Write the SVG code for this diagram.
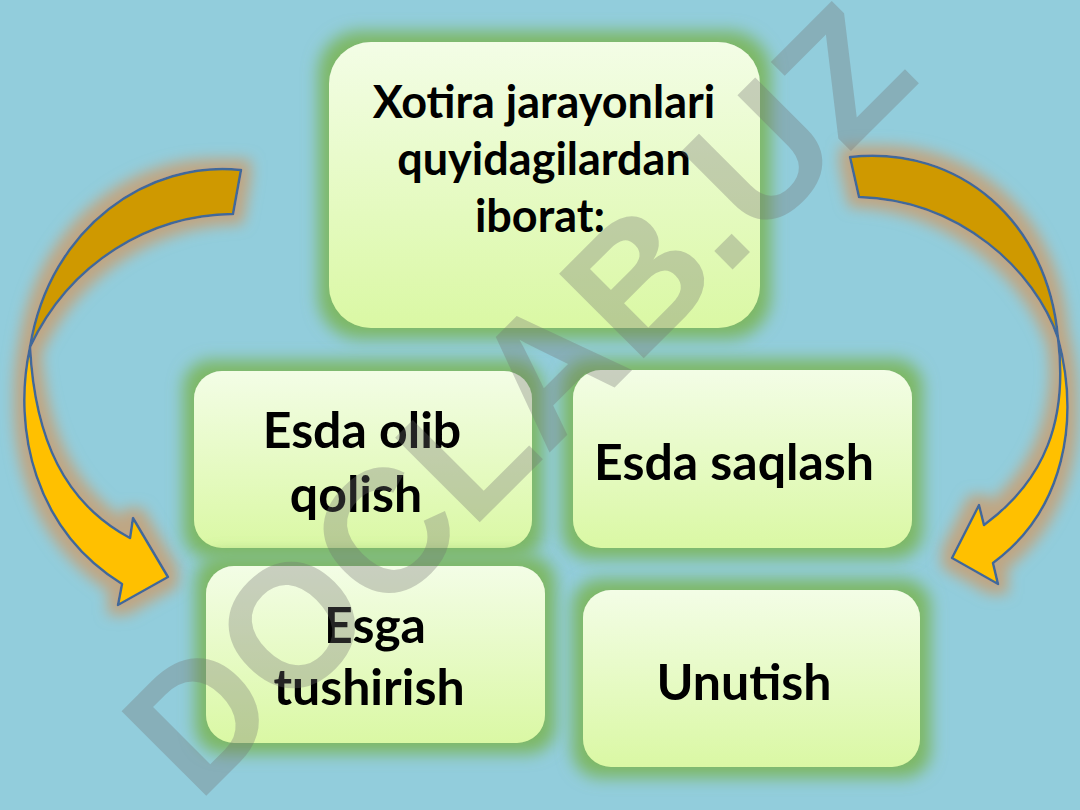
<svg xmlns="http://www.w3.org/2000/svg" width="1080" height="810" viewBox="0 0 1080 810">
<defs>
<linearGradient id="boxFill" x1="0" y1="0" x2="0" y2="1">
<stop offset="0" stop-color="#F3FDE6"/>
<stop offset="1" stop-color="#DAF8A4"/>
</linearGradient>
<filter id="glowG" x="-25%" y="-35%" width="150%" height="170%">
<feMorphology in="SourceAlpha" operator="dilate" radius="11" result="d"/>
<feGaussianBlur in="d" stdDeviation="8" result="b"/>
<feFlood flood-color="#7DB866" flood-opacity="1"/>
<feComposite in2="b" operator="in" result="g"/>
<feMerge><feMergeNode in="g"/><feMergeNode in="SourceGraphic"/></feMerge>
</filter>
<filter id="glowO" x="-40%" y="-25%" width="180%" height="150%">
<feMorphology in="SourceAlpha" operator="dilate" radius="9" result="d"/>
<feGaussianBlur in="d" stdDeviation="7" result="b"/>
<feFlood flood-color="#C4A27A" flood-opacity="0.9"/>
<feComposite in2="b" operator="in" result="g"/>
<feMerge><feMergeNode in="g"/><feMergeNode in="SourceGraphic"/></feMerge>
</filter>
</defs>
<style>
.box{fill:url(#boxFill);filter:url(#glowG);}
.lbl{font-family:Lato,"Open Sans","Liberation Sans",sans-serif;font-weight:bold;fill:#000;text-anchor:middle;}
.back{fill:#CF9900;stroke:#41699A;stroke-width:2.5;stroke-linejoin:round;}
.front{fill:#FFC000;stroke:#41699A;stroke-width:2.5;stroke-linejoin:round;}
.wm{font-family:"Liberation Sans",Arial,sans-serif;font-weight:bold;fill:#707070;fill-opacity:0.32;}
</style>
<rect width="1080" height="810" fill="#92CDDC"/>

<g id="connectors">
<g id="arrow-left" filter="url(#glowO)">
<path class="back" d="M241,170 C150,160 50,225 30,347 C70,262 150,215 233,214 Z"/>
<path class="front" d="M30,347 C12,430 35,530 122,584 L118,605 L168,577 L133,518 L130,538 C65,503 35,440 30,347 Z"/>
</g>
<g id="arrow-right" filter="url(#glowO)">
<path class="back" d="M850,157 C960,145 1048,222 1058,338 C1035,270 960,200 859,197 Z"/>
<path class="front" d="M1058,338 C1080,420 1065,510 993,563 L998,584 L952,558 L979,505 L984,525 C1045,480 1068,420 1058,338 Z"/>
</g>
</g>

<g id="node-top">
<rect class="box" x="329" y="42" width="431" height="286" rx="42"/>
<text class="lbl" font-size="45" x="544" y="118">Xotira jarayonlari</text>
<text class="lbl" font-size="45" x="544" y="175">quyidagilardan</text>
<text class="lbl" font-size="45" x="540" y="232">iborat:</text>
</g>

<g id="node-esda-olib">
<rect class="box" x="194" y="371" width="338" height="177" rx="28"/>
<text class="lbl" font-size="50" x="362" y="448">Esda olib</text>
<text class="lbl" font-size="50" x="356" y="512">qolish</text>
</g>

<g id="node-esda-saqlash">
<rect class="box" x="573" y="370" width="339" height="178" rx="28"/>
<text class="lbl" font-size="50" x="734" y="480">Esda saqlash</text>
</g>

<g id="node-esga">
<rect class="box" x="206" y="566" width="339" height="177" rx="28"/>
<text class="lbl" font-size="50" x="375" y="643">Esga</text>
<text class="lbl" font-size="50" x="369" y="705">tushirish</text>
</g>

<g id="node-unutish">
<rect class="box" x="583" y="590" width="337" height="177" rx="28"/>
<text class="lbl" font-size="50" x="744" y="700">Unutish</text>
</g>

<text class="wm" font-size="174" transform="translate(198,804) rotate(-45)">DOCLAB.UZ</text>
</svg>
